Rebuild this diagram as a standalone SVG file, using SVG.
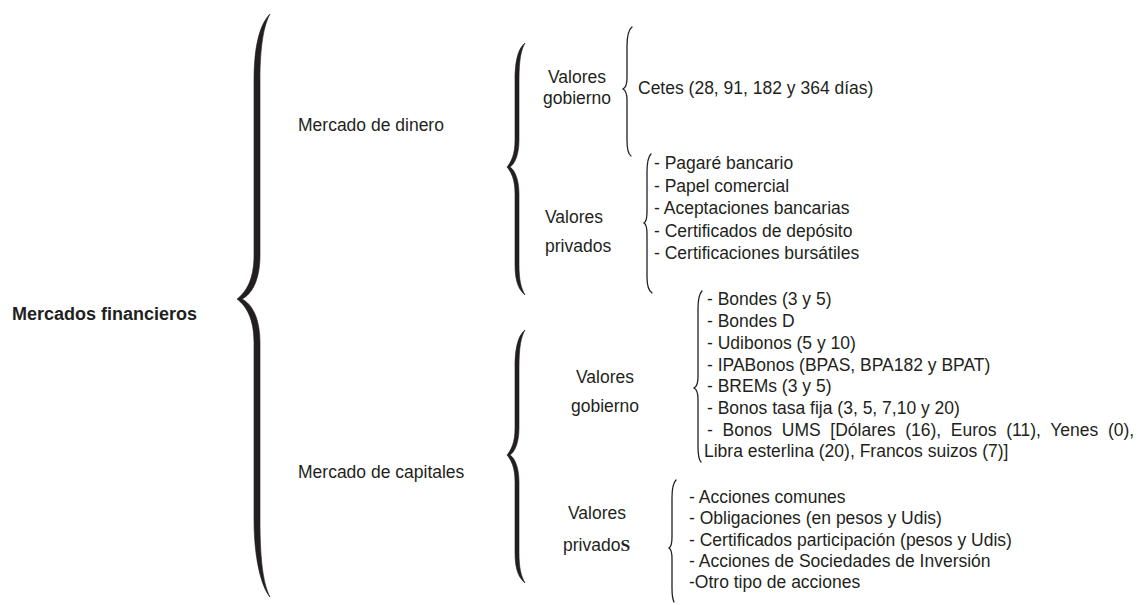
<svg xmlns="http://www.w3.org/2000/svg" width="1145" height="605" viewBox="0 0 1145 605">
<style>
text{font-family:"Liberation Sans",Arial,sans-serif;font-size:17.5px;fill:#231f20}
.b{font-weight:bold;font-size:18px}
.m{text-anchor:middle}
.thick{fill:#231f20;stroke:#231f20;stroke-width:0.6}
.thin{fill:none;stroke:#231f20;stroke-width:1.3;stroke-linecap:round}
</style>
<rect width="1145" height="605" fill="#fff"/>
<g id="connectors">
<path class="thick" d="M 270 14 C 262 22, 254 40, 254 80 L 254 255 C 254 280, 246 292, 237 299 C 246 306, 254 318, 254 343 L 254 520 C 254 560, 262 588, 270 597 C 264 585, 260 565, 260 520 L 260 343 C 260 318, 252 304, 242 299 C 252 294, 260 280, 260 255 L 260 80 C 260 45, 264 25, 270 14 Z"/>
<path class="thick" d="M 525 43 C 519 48, 515 58, 515 80 L 515 140 C 515 155, 511 162, 507 167 C 511 172, 515 179, 515 194 L 515 265 C 515 282, 519 290, 525 295 C 521 288, 519 280, 519 265 L 519 194 C 519 180, 515 170, 510 167 C 515 164, 519 154, 519 140 L 519 80 C 519 60, 521 50, 525 43 Z"/>
<path class="thick" d="M 525 330 C 519 335, 515 345, 515 367 L 515 428 C 515 443, 511 450, 507 455 C 511 460, 515 467, 515 482 L 515 553 C 515 570, 519 578, 525 583 C 521 576, 519 568, 519 553 L 519 482 C 519 468, 515 458, 510 455 C 515 452, 519 442, 519 428 L 519 367 C 519 347, 521 337, 525 330 Z"/>
<path class="thin" d="M 632 27 C 628 30, 627 36, 627 46 L 627 78 C 627 85, 625 88, 623 89 C 625 90, 627 93, 627 100 L 627 140 C 627 150, 628 154, 631 156"/>
<path class="thin" d="M 651 154 C 648 157, 647 162, 647 172 L 647 212 C 647 219, 646 222, 644 223 C 646 224, 647 227, 647 234 L 647 277 C 647 287, 649 291, 652 293"/>
<path class="thin" d="M 702 291 C 699 294, 698 299, 698 309 L 698 377 C 698 384, 696 387, 694 388 C 696 389, 698 392, 698 399 L 698 446 C 698 456, 699 460, 701 462"/>
<path class="thin" d="M 676 480 C 673 483, 672 488, 672 498 L 672 537 C 672 544, 671 547, 669 548 C 671 549, 672 552, 672 559 L 672 588 C 672 597, 673 600, 674 602"/>
</g>
<g id="mercados-financieros"><text class="b" x="12" y="320">Mercados financieros</text></g>
<g id="mercado-dinero"><text x="298" y="131">Mercado de dinero</text></g>
<g id="mercado-capitales"><text x="298" y="478">Mercado de capitales</text></g>
<g id="dinero-gobierno"><text class="m" x="577" y="83">Valores</text><text class="m" x="577" y="104">gobierno</text></g>
<g id="dinero-privados"><text x="545" y="223">Valores</text><text x="545" y="252">privados</text></g>
<g id="capitales-gobierno"><text class="m" x="605" y="383">Valores</text><text class="m" x="605" y="412">gobierno</text></g>
<g id="capitales-privados"><text x="568" y="519">Valores</text><text x="563" y="551">privado<tspan style="font-family:'Liberation Serif',serif;font-weight:bold">S</tspan></text></g>
<g id="cetes"><text x="638" y="94">Cetes (28, 91, 182 y 364 días)</text></g>
<g id="lista-dinero-privados">
<text x="654" y="169">- Pagaré bancario</text>
<text x="654" y="191.6">- Papel comercial</text>
<text x="654" y="214.2">- Aceptaciones bancarias</text>
<text x="654" y="236.8">- Certificados de depósito</text>
<text x="654" y="259.4">- Certificaciones bursátiles</text>
</g>
<g id="lista-capitales-gobierno">
<text x="707" y="305">- Bondes (3 y 5)</text>
<text x="707" y="327">- Bondes D</text>
<text x="707" y="349">- Udibonos (5 y 10)</text>
<text x="707" y="370.5">- IPABonos (BPAS, BPA182 y BPAT)</text>
<text x="707" y="392">- BREMs (3 y 5)</text>
<text x="707" y="414">- Bonos tasa fija (3, 5, 7,10 y 20)</text>
<text x="707" y="435.5" style="word-spacing:4.8px">- Bonos UMS [Dólares (16), Euros (11), Yenes (0),</text>
<text x="704" y="457">Libra esterlina (20), Francos suizos (7)]</text>
</g>
<g id="lista-capitales-privados">
<text x="689" y="503">- Acciones comunes</text>
<text x="689" y="524">- Obligaciones (en pesos y Udis)</text>
<text x="689" y="546">- Certificados participación (pesos y Udis)</text>
<text x="689" y="567">- Acciones de Sociedades de Inversión</text>
<text x="689" y="588">-Otro tipo de acciones</text>
</g>
</svg>
